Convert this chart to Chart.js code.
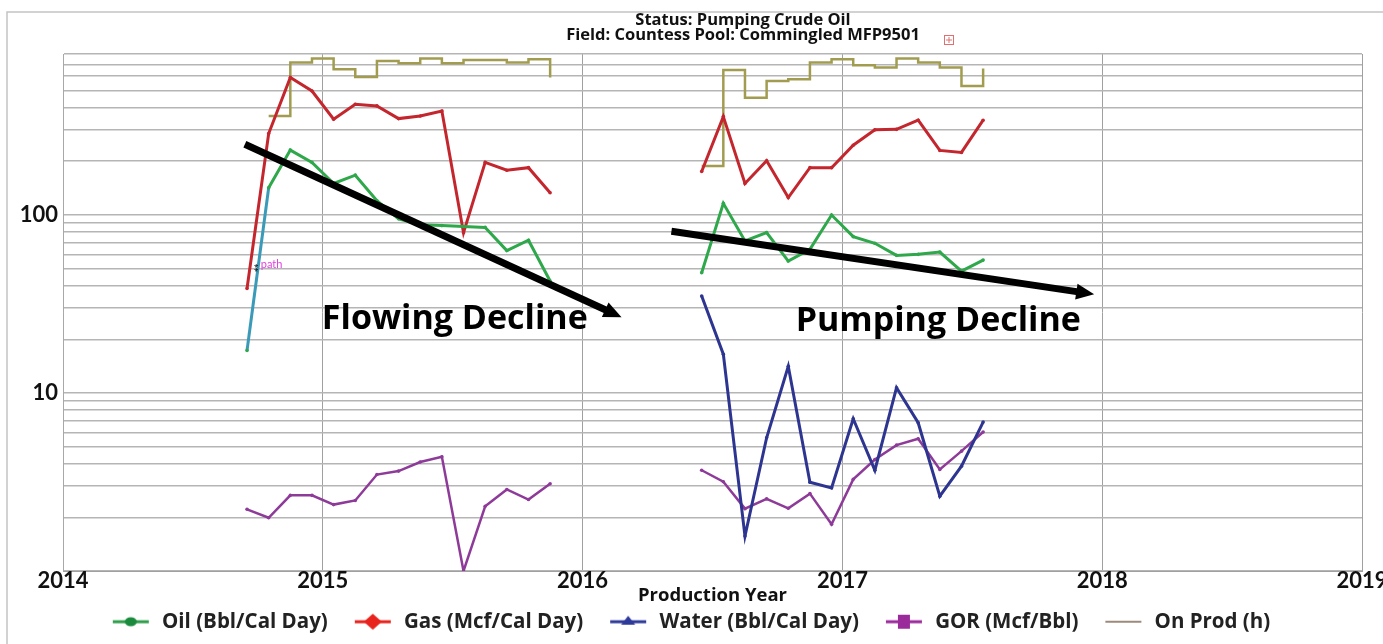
<!DOCTYPE html>
<html>
<head>
<meta charset="utf-8">
<title>Production - Countess Pool MFP9501</title>
<script src="https://cdn.jsdelivr.net/npm/chart.js@4.4.0/dist/chart.umd.min.js"></script>
<style>
  html, body { margin: 0; padding: 0; background: #fff; }
  #wrap { width: 1383px; height: 644px; position: relative; }
</style>
</head>
<body>
<div id="wrap"><canvas id="prod"></canvas></div>
<script>
// monthly points, flowing period then pumping period
const flowMonths = ['2014-09', '2014-10', '2014-11', '2014-12', '2015-01', '2015-02', '2015-03', '2015-04',
  '2015-05', '2015-06', '2015-07', '2015-08', '2015-09', '2015-10', '2015-11'];
const pumpMonths = ['2016-06', '2016-07', '2016-08', '2016-09', '2016-10', '2016-11', '2016-12',
  '2017-01', '2017-02', '2017-03', '2017-04', '2017-05', '2017-06', '2017-07'];

const oilFlow = [17.3, 142, 231, 197, 150, 167, 120, 95, 88, 87, 86, 85, 63, 72, 42.5];
const oilPump = [47.3, 116, 71.3, 79.4, 55, 64, 99.7, 75.4, 69.2, 59.2, 60, 61.8, 48.3, 55.7];
const gasFlow = [38.6, 286, 590, 496, 344, 418, 409, 347, 359, 383, 79.4, 197, 178, 184, 133];
const gasPump = [175, 356, 150, 201, 125, 184, 184, 246, 300, 302, 340, 230, 224, 340];
const waterPump = [35, 16.5, 1.57, 5.6, 14.1, 3.15, 2.93, 7.16, 3.68, 10.7, 6.8, 2.63, 3.88, 6.86];
const gorFlow = [2.22, 1.99, 2.66, 2.66, 2.36, 2.49, 3.48, 3.64, 4.09, 4.38, 1.0, 2.31, 2.87, 2.52, 3.09];
const gorPump = [3.68, 3.17, 2.24, 2.54, 2.25, 2.72, 1.83, 3.27, 4.23, 5.09, 5.53, 3.72, 4.71, 6.03];
const onProdFlow = [null, 359, 716, 754, 657, 595, 731, 710, 754, 710, 741, 741, 716, 747, 590];
const onProdPump = [188, 651, 455, 565, 577, 716, 747, 692, 671, 754, 716, 671, 529, 663];

const yearTicks = [2014, 2015, 2016, 2017, 2018, 2019];
const yGridValues = [1, 2, 3, 4, 5, 6, 7, 8, 9, 10, 20, 30, 40, 50, 60, 70, 80, 90,
  100, 200, 300, 400, 500, 600, 700, 800];
const yLabelValues = [10, 100];

const titleLines = ['Status: Pumping Crude Oil', 'Field: Countess Pool: Commingled MFP9501'];

// hand-drawn annotations, in data units (year, value)
const declineArrows = [
  { from: [2014.70, 249], to: [2016.15, 26.6] },
  { from: [2016.342, 80.8], to: [2017.969, 35.8] },
];
const declineNotes = [
  { text: 'Flowing Decline', at: [2015.508, 25.9] },
  { text: 'Pumping Decline', at: [2017.369, 25.2] },
];
const pathNote = { text: 'path', at: [2014.742, 51.4] };

const FONT = 'Lato, "Open Sans", sans-serif';
const WIDE = '"Open Sans", Lato, sans-serif';

function toYear(m) {
  const [y, mo] = m.split('-').map(Number);
  return y + (mo - 0.5) / 12;
}

function series(flow, pump) {
  const pts = flowMonths.map((m, i) => ({ x: toYear(m), y: flow ? flow[i] : null }));
  pts.push({ x: 2016, y: null });
  return pts.concat(pumpMonths.map((m, i) => ({ x: toYear(m), y: pump[i] })));
}

// legend swatch: line with marker, with some blank room on the left for spacing
function legendIcon(color, marker, markerColor, lw) {
  const c = document.createElement('canvas');
  c.width = 60; c.height = 18;
  const g = c.getContext('2d');
  const cx = 39;
  g.strokeStyle = color;
  g.lineWidth = lw;
  g.beginPath(); g.moveTo(cx - 18, 9); g.lineTo(cx + 18, 9); g.stroke();
  g.fillStyle = markerColor;
  g.beginPath();
  if (marker === 'circle') {
    g.ellipse(cx, 9, 6, 4.5, 0, 0, Math.PI * 2);
  } else if (marker === 'diamond') {
    g.moveTo(cx, 1); g.lineTo(cx + 9, 9); g.lineTo(cx, 17); g.lineTo(cx - 9, 9); g.closePath();
  } else if (marker === 'triangle') {
    g.moveTo(cx, 3); g.lineTo(cx + 7, 12); g.lineTo(cx - 7, 12); g.closePath();
  } else if (marker === 'square') {
    g.rect(cx - 6, 2, 12, 14);
  }
  g.fill();
  return c;
}

const legendIcons = [
  legendIcon('#2e9e4a', 'circle', '#1b8a3c', 3),
  legendIcon('#e8221c', 'diamond', '#e8221c', 3),
  legendIcon('#2e3a9a', 'triangle', '#2e3a9a', 3),
  legendIcon('#9b2a9b', 'square', '#9b2a9b', 3),
  legendIcon('#9d8a7a', 'none', '#9d8a7a', 2),
];

const frameAndTitle = {
  id: 'frameAndTitle',
  beforeDraw(chart) {
    const { ctx } = chart;
    ctx.save();
    ctx.strokeStyle = '#c4c4c4';
    ctx.lineWidth = 1.5;
    ctx.beginPath();
    ctx.moveTo(7, 700); ctx.lineTo(7, 12); ctx.lineTo(1400, 12);
    ctx.stroke();

    ctx.fillStyle = '#111';
    ctx.textAlign = 'center';
    ctx.textBaseline = 'middle';
    ctx.font = 'bold 16.5px ' + WIDE;
    ctx.fillText(titleLines[0], 743, 20);
    ctx.fillText(titleLines[1], 743, 35);

    // little expand box next to the title
    ctx.strokeStyle = '#e07070';
    ctx.lineWidth = 1;
    ctx.strokeRect(944.5, 35.5, 9, 9);
    ctx.beginPath();
    ctx.moveTo(946, 40); ctx.lineTo(952, 40);
    ctx.moveTo(949, 37); ctx.lineTo(949, 43);
    ctx.stroke();
    ctx.restore();
  },
};

const annotations = {
  id: 'annotations',
  afterDatasetsDraw(chart) {
    const { ctx, scales: { x, y } } = chart;
    ctx.save();
    ctx.fillStyle = '#000';
    ctx.strokeStyle = '#000';
    declineArrows.forEach(a => {
      const x0 = x.getPixelForValue(a.from[0]), y0 = y.getPixelForValue(a.from[1]);
      const x1 = x.getPixelForValue(a.to[0]), y1 = y.getPixelForValue(a.to[1]);
      const ang = Math.atan2(y1 - y0, x1 - x0);
      const head = 18, half = 8;
      ctx.lineWidth = 7;
      ctx.lineCap = 'butt';
      ctx.beginPath();
      ctx.moveTo(x0, y0);
      ctx.lineTo(x1 - Math.cos(ang) * head * 0.8, y1 - Math.sin(ang) * head * 0.8);
      ctx.stroke();
      ctx.beginPath();
      ctx.moveTo(x1, y1);
      ctx.lineTo(x1 - Math.cos(ang) * head - Math.sin(ang) * half, y1 - Math.sin(ang) * head + Math.cos(ang) * half);
      ctx.lineTo(x1 - Math.cos(ang) * head + Math.sin(ang) * half, y1 - Math.sin(ang) * head - Math.cos(ang) * half);
      ctx.closePath();
      ctx.fill();
    });

    ctx.textAlign = 'center';
    ctx.textBaseline = 'middle';
    ctx.font = 'bold 34px ' + WIDE;
    declineNotes.forEach(n => {
      ctx.fillText(n.text, x.getPixelForValue(n.at[0]), y.getPixelForValue(n.at[1]));
    });

    const px = x.getPixelForValue(pathNote.at[0]), py = y.getPixelForValue(pathNote.at[1]);
    ctx.font = '8px ' + FONT;
    ctx.fillText('⁑', px, py + 1);
    ctx.textAlign = 'left';
    ctx.fillStyle = '#e040e0';
    ctx.font = '11px ' + FONT;
    ctx.fillText(pathNote.text, px + 5, py - 2);
    ctx.restore();
  },
};

function lineSet(label, data, color, extra) {
  return Object.assign({
    label,
    data,
    borderColor: color,
    backgroundColor: color,
    borderWidth: 3,
    pointRadius: 1.8,
    pointBorderWidth: 0,
    pointBackgroundColor: color,
    tension: 0,
    spanGaps: false,
  }, extra || {});
}

const ctx = document.getElementById('prod').getContext('2d');
new Chart(ctx, {
  type: 'line',
  data: {
    datasets: [
      lineSet('Oil (Bbl/Cal Day)', series(oilFlow, oilPump), '#2ea84a', {
        segment: { borderColor: c => (c.p0DataIndex === 0 ? '#3a9ab8' : undefined) },
      }),
      lineSet('Gas (Mcf/Cal Day)', series(gasFlow, gasPump), '#c4262e'),
      lineSet('Water (Bbl/Cal Day)', series(null, waterPump), '#2d3590'),
      lineSet('GOR (Mcf/Bbl)', series(gorFlow, gorPump), '#8e3a99', { borderWidth: 2.5 }),
      lineSet('On Prod (h)', series(onProdFlow, onProdPump), '#a29c50', {
        stepped: 'before', pointRadius: 0, borderWidth: 2.5,
      }),
    ],
  },
  options: {
    responsive: true,
    maintainAspectRatio: false,
    animation: false,
    devicePixelRatio: 1,
    layout: { padding: { left: 0, right: 21, top: 54, bottom: 2 } },
    scales: {
      x: {
        type: 'linear',
        min: 2014,
        max: 2019,
        afterBuildTicks: s => { s.ticks = yearTicks.map(v => ({ value: v })); },
        afterFit: s => { s.height = 34.5; s.paddingLeft = 0; s.paddingRight = 0; },
        ticks: {
          autoSkip: false,
          maxRotation: 0,
          padding: -1,
          color: '#111',
          font: { family: FONT, size: 22, weight: 'bold', lineHeight: 1 },
          callback: v => String(v),
        },
        grid: { color: '#a0a0a0', lineWidth: 1, drawTicks: false },
        border: { color: '#a0a0a0' },
        title: {
          display: true,
          text: 'Production Year',
          color: '#111',
          padding: 0,
          font: { family: WIDE, size: 18.5, weight: 'bold', lineHeight: 1.1 },
        },
      },
      y: {
        type: 'logarithmic',
        min: 1,
        max: 800,
        afterBuildTicks: s => { s.ticks = yGridValues.map(v => ({ value: v })); },
        afterFit: s => { s.width = 63; s.paddingTop = 0; s.paddingBottom = 0; },
        ticks: {
          autoSkip: false,
          padding: 5,
          color: '#111',
          font: { family: FONT, size: 22, weight: 'bold' },
          callback: v => (yLabelValues.includes(v) ? String(v) : ''),
        },
        grid: { color: '#b5b5b5', lineWidth: 1.5, drawTicks: false },
        border: { color: '#a8a8a8' },
      },
    },
    plugins: {
      title: { display: false },
      tooltip: { enabled: false },
      legend: {
        position: 'bottom',
        labels: {
          usePointStyle: true,
          pointStyleWidth: 60,
          padding: 6,
          color: '#222',
          font: { family: WIDE, size: 20.5, weight: 'bold' },
          generateLabels: chart => Chart.defaults.plugins.legend.labels.generateLabels(chart)
            .map((l, i) => Object.assign(l, { pointStyle: legendIcons[i] })),
        },
      },
    },
  },
  plugins: [frameAndTitle, annotations],
});
</script>
</body>
</html>
